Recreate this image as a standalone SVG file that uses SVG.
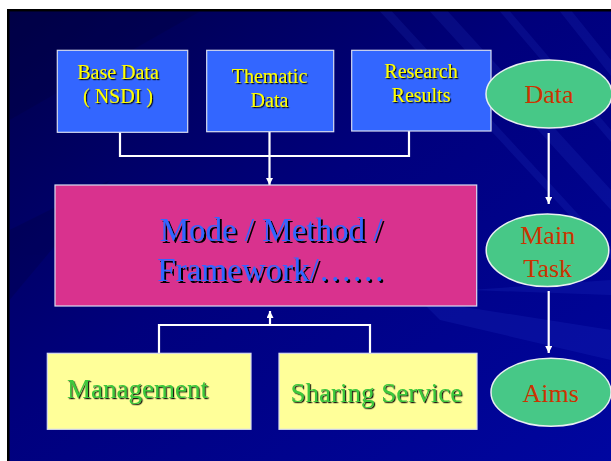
<svg xmlns="http://www.w3.org/2000/svg" width="611" height="461" viewBox="0 0 611 461">
  <defs>
    <linearGradient id="bg" x1="0" y1="0" x2="1" y2="1">
      <stop offset="0" stop-color="#00004A"/>
      <stop offset="0.45" stop-color="#00007C"/>
      <stop offset="1" stop-color="#0006A0"/>
    </linearGradient>
    <filter id="sh1" x="-10%" y="-20%" width="130%" height="150%">
      <feDropShadow dx="1.2" dy="1.2" stdDeviation="0.3" flood-color="#000000" flood-opacity="0.9"/>
    </filter>
    <filter id="sh2" x="-10%" y="-20%" width="130%" height="150%">
      <feDropShadow dx="2" dy="2" stdDeviation="0.3" flood-color="#000000" flood-opacity="1"/>
    </filter>
    <marker id="arr" viewBox="0 0 10 10" refX="10" refY="5" markerUnits="userSpaceOnUse" markerWidth="7" markerHeight="7" orient="auto">
      <path d="M0,0 L10,5 L0,10 z" fill="#FFFFFF"/>
    </marker>
  </defs>
  <style>
    .box { stroke: #D8DCF0; stroke-width: 1.2; }
    .blue { fill: #3366FF; }
    .pink { fill: #D9328E; }
    .yel { fill: #FFFF99; }
    .ell { fill: #47C887; stroke: #E8F0F0; stroke-width: 1.5; }
    .t { font-family: "Liberation Serif", "Times New Roman", serif; text-anchor: middle; }
    .ty { fill: #FFFF00; font-size: 20px; filter: url(#sh1); }
    .tr { fill: #CC3300; font-size: 26px; }
    .tb { fill: #3366FF; font-size: 33px; filter: url(#sh2); }
    .tg { fill: #3CC83C; font-size: 27px; filter: url(#sh1); }
    .con { fill: none; stroke: #FFFFFF; stroke-width: 2.2; }
  </style>

  <!-- frame and background -->
  <rect x="0" y="0" width="611" height="461" fill="#FFFFFF"/>
  <rect x="7" y="9" width="604" height="452" fill="#000000"/>
  <rect x="9.5" y="11.5" width="601.5" height="449.5" fill="url(#bg)"/>
  <g opacity="0.1" fill="#4A6CFF">
    <polygon points="430,11.5 448,11.5 611,190 611,210"/>
    <polygon points="500,11.5 510,11.5 611,130 611,142"/>
    <polygon points="560,11.5 572,11.5 611,60 611,76"/>
    <polygon points="380,11.5 392,11.5 611,250 611,260"/>
    <polygon points="420,300 611,330 611,360 440,320"/>
    <polygon points="470,290 611,280 611,295"/>
  </g>
  <g opacity="0.25" fill="#00003A">
    <polygon points="9.5,11.5 200,11.5 9.5,120"/>
    <polygon points="9.5,230 110,180 9.5,300"/>
  </g>

  <!-- connectors -->
  <g id="connectors">
    <polyline class="con" points="120,132 120,156 409,156 409,131"/>
    <line class="con" x1="269.5" y1="132" x2="269.5" y2="185" marker-end="url(#arr)"/>
    <line class="con" x1="548.7" y1="133" x2="548.7" y2="204" marker-end="url(#arr)"/>
    <line class="con" x1="548.7" y1="291" x2="548.7" y2="353" marker-end="url(#arr)"/>
    <polyline class="con" points="159,353 159,325 370,325 370,353"/>
    <line class="con" x1="270" y1="325" x2="270" y2="311" marker-end="url(#arr)"/>
  </g>

  <!-- nodes -->
  <g id="base-data">
    <rect class="box blue" x="57.3" y="50.3" width="130.4" height="82"/>
    <text class="t ty" x="118" y="79">Base Data</text>
    <text class="t ty" x="118" y="103">( NSDI )</text>
  </g>
  <g id="thematic-data">
    <rect class="box blue" x="206.7" y="50.3" width="127" height="81.4"/>
    <text class="t ty" x="269.5" y="82.7">Thematic</text>
    <text class="t ty" x="269.5" y="107.3">Data</text>
  </g>
  <g id="research-results">
    <rect class="box blue" x="351.7" y="50.3" width="139.3" height="80.7"/>
    <text class="t ty" x="421" y="78">Research</text>
    <text class="t ty" x="421" y="101.7">Results</text>
  </g>
  <g id="data">
    <ellipse class="ell" cx="549" cy="94" rx="63" ry="34"/>
    <text class="t tr" x="549" y="103.3">Data</text>
  </g>
  <g id="mode-method-framework">
    <rect class="box pink" x="55" y="185" width="421.7" height="121"/>
    <text class="t tb" x="271" y="240.7">Mode / Method /</text>
    <text class="t tb" x="271" y="281">Framework/……</text>
  </g>
  <g id="main-task">
    <ellipse class="ell" cx="547.5" cy="250.3" rx="61.3" ry="36.3"/>
    <text class="t tr" x="547.7" y="244">Main</text>
    <text class="t tr" x="547.7" y="276.7">Task</text>
  </g>
  <g id="aims">
    <ellipse class="ell" cx="551" cy="392.2" rx="60" ry="34"/>
    <text class="t tr" x="550.7" y="401.7">Aims</text>
  </g>
  <g id="management">
    <rect class="box yel" x="47.3" y="353.3" width="203.7" height="76"/>
    <text class="t tg" x="137.5" y="398.3">Management</text>
  </g>
  <g id="sharing-service">
    <rect class="box yel" x="279" y="353.3" width="198" height="76"/>
    <text class="t tg" x="376.3" y="401.7">Sharing Service</text>
  </g>
</svg>
